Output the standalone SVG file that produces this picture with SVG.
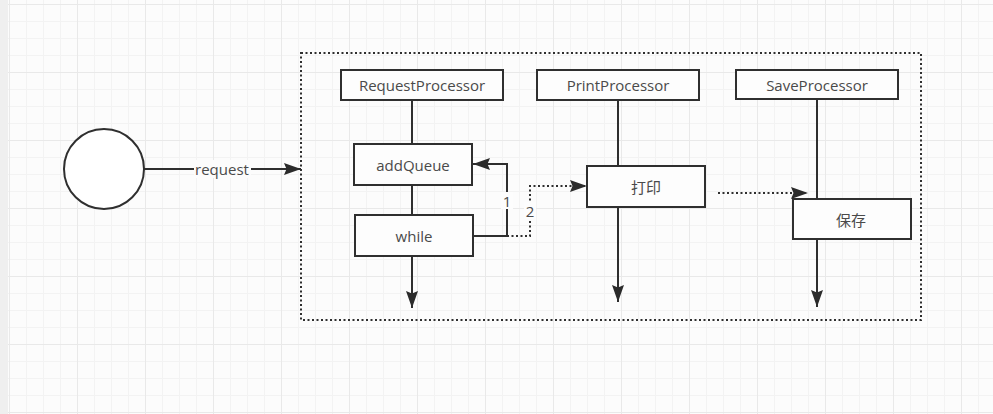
<svg xmlns="http://www.w3.org/2000/svg" width="993" height="414" viewBox="0 0 993 414">
<defs>
<pattern id="minor" x="9" y="4" width="17" height="17" patternUnits="userSpaceOnUse">
<path d="M0 0.5H17M0.5 0V17" fill="none" stroke="#f3f3f3" stroke-width="1"/>
</pattern>
<pattern id="major" x="9" y="4" width="68" height="68" patternUnits="userSpaceOnUse">
<path d="M0 0.5H68M0.5 0V68" fill="none" stroke="#e9e9e9" stroke-width="1"/>
</pattern>
<marker id="arrB" viewBox="0 0 17 12" refX="17" refY="6" markerWidth="17" markerHeight="12" markerUnits="userSpaceOnUse" orient="auto">
<path d="M0 0L17 6L0 12L2.5 6Z" fill="#2b2b2b"/>
</marker>
</defs>
<style>
.box{fill:#fdfdfd;stroke:#2f2f2f;stroke-width:2}
.ln{fill:none;stroke:#2f2f2f;stroke-width:2}
.dot{fill:none;stroke:#2f2f2f;stroke-width:2;stroke-dasharray:2 2.5}
.t{font-family:"Open Sans","Noto Sans","Noto Sans CJK SC",sans-serif;font-size:15px;fill:#4a4a4a;text-anchor:middle;dominant-baseline:central}
.cn{font-family:"Noto Sans CJK SC","Noto Sans",sans-serif;font-size:15px;fill:#4a4a4a;text-anchor:middle;dominant-baseline:central}
</style>
<rect x="0" y="0" width="993" height="414" fill="#fcfcfc"/>
<rect x="0" y="0" width="993" height="414" fill="url(#minor)"/>
<rect x="0" y="0" width="993" height="414" fill="url(#major)"/>
<rect x="0" y="0" width="8" height="414" fill="#efefef"/>

<g id="container">
<rect x="301" y="53" width="620" height="267" fill="#fdfdfd" class="dot"/>
</g>

<g id="connectors">
<line class="ln" x1="144" y1="169" x2="301" y2="169" marker-end="url(#arrB)"/>
<rect x="194" y="160" width="57" height="18" fill="#fcfcfc"/>
<text class="t" x="222" y="168.5">request</text>
<line class="ln" x1="412" y1="100" x2="412" y2="144"/>
<line class="ln" x1="412" y1="185" x2="412" y2="215"/>
<line class="ln" x1="412" y1="256" x2="412" y2="308" marker-end="url(#arrB)"/>
<line class="ln" x1="618" y1="100" x2="618" y2="166"/>
<line class="ln" x1="618" y1="207" x2="618" y2="302" marker-end="url(#arrB)"/>
<line class="ln" x1="817" y1="99" x2="817" y2="199"/>
<line class="ln" x1="817" y1="239" x2="817" y2="307" marker-end="url(#arrB)"/>
<polyline class="ln" points="473,236 507,236 507,164 473,164" marker-end="url(#arrB)"/>
<rect x="501" y="192" width="12" height="17" fill="#fdfdfd"/>
<text class="t" x="507" y="200.5">1</text>
<polyline class="dot" points="507,236 530,236 530,186 587,186" marker-end="url(#arrB)"/>
<rect x="524" y="202" width="12" height="17" fill="#fdfdfd"/>
<text class="t" x="530" y="210.5">2</text>
<line class="dot" x1="718" y1="193" x2="808" y2="193" marker-end="url(#arrB)"/>
</g>

<g id="RequestProcessor">
<rect class="box" x="341" y="70" width="162" height="30"/>
<text class="t" x="422" y="85">RequestProcessor</text>
</g>
<g id="PrintProcessor">
<rect class="box" x="537" y="70" width="162" height="30"/>
<text class="t" x="618" y="85">PrintProcessor</text>
</g>
<g id="SaveProcessor">
<rect class="box" x="736" y="70" width="162" height="29"/>
<text class="t" x="817" y="84.5">SaveProcessor</text>
</g>
<g id="addQueue">
<rect class="box" x="354" y="144" width="118" height="41"/>
<text class="t" x="413" y="164.5">addQueue</text>
</g>
<g id="while">
<rect class="box" x="355" y="215" width="118" height="41"/>
<text class="t" x="414" y="235.5">while</text>
</g>
<g id="print">
<rect class="box" x="587" y="166" width="118" height="41"/>
<text class="cn" x="646" y="186.5">打印</text>
</g>
<g id="save">
<rect class="box" x="793" y="199" width="118" height="40"/>
<text class="cn" x="851" y="219">保存</text>
</g>
<g id="start">
<circle cx="104" cy="169" r="40" fill="#ffffff" stroke="#2f2f2f" stroke-width="2"/>
</g>
</svg>
